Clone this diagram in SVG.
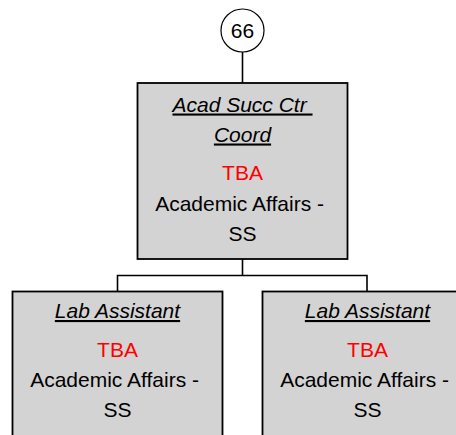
<svg xmlns="http://www.w3.org/2000/svg" width="456" height="435" viewBox="0 0 456 435">
<style>
.box{fill:#d3d3d3;stroke:#000;stroke-width:1.8}
.ln{fill:none;stroke:#000;stroke-width:1.6}
text{font-family:"Liberation Sans",Arial,sans-serif;font-size:21px;text-anchor:middle;fill:#000}
.t{font-style:italic;text-decoration:underline}
.r{fill:#ff0000}
</style>
<rect width="456" height="435" fill="#fff"/>
<g id="connectors">
<line class="ln" x1="242.5" y1="52" x2="242.5" y2="83"/>
<polyline class="ln" points="242.5,259 242.5,275.5"/>
<polyline class="ln" points="117.5,291.5 117.5,275.5 367,275.5 367,291.5"/>
</g>
<g id="n66">
<circle cx="242.5" cy="30.5" r="21.5" fill="#fff" stroke="#000" stroke-width="1.2"/>
<text x="242.5" y="38">66</text>
</g>
<g id="acad">
<rect class="box" x="137.5" y="83" width="210" height="176"/>
<text class="t" x="242.5" y="111.5">Acad Succ Ctr&#160;</text>
<text class="t" x="242.5" y="141.5">Coord</text>
<text class="r" x="242.5" y="179.5">TBA</text>
<text x="242.5" y="210.5">Academic Affairs -&#160;</text>
<text x="242.5" y="241">SS</text>
</g>
<g id="lab1">
<rect class="box" x="12.5" y="291.5" width="210" height="160"/>
<text class="t" x="117.5" y="318">Lab Assistant</text>
<text class="r" x="117.5" y="357">TBA</text>
<text x="117.5" y="387">Academic Affairs -&#160;</text>
<text x="117.5" y="417">SS</text>
</g>
<g id="lab2">
<rect class="box" x="262.5" y="291.5" width="210" height="160"/>
<text class="t" x="367.5" y="318">Lab Assistant</text>
<text class="r" x="367.5" y="357">TBA</text>
<text x="367.5" y="387">Academic Affairs -&#160;</text>
<text x="367.5" y="417">SS</text>
</g>
</svg>
